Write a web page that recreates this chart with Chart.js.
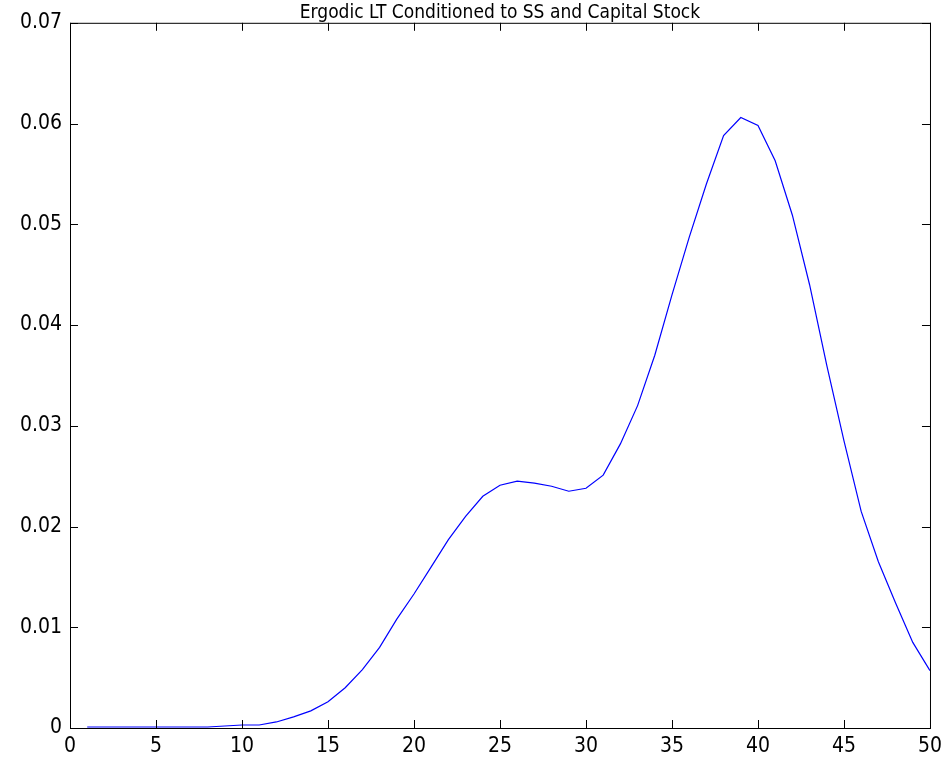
<!DOCTYPE html>
<html>
<head>
<meta charset="utf-8">
<title>Ergodic LT Conditioned to SS and Capital Stock</title>
<script src="https://cdn.jsdelivr.net/npm/chart.js@4.4.1/dist/chart.umd.min.js"></script>
<style>
    html, body { margin: 0; padding: 0; background: #fff; }
    #wrap { width: 948px; height: 766px; }
</style>
</head>
<body>
<div id="wrap"><canvas id="ergodicChart"></canvas></div>
<script>
// Data (x = grid point, y = probability mass)
const gridPoints = [
    1, 2, 3, 4, 5, 6, 7, 8, 9, 10,
    11, 12, 13, 14, 15, 16, 17, 18, 19, 20,
    21, 22, 23, 24, 25, 26, 27, 28, 29, 30,
    31, 32, 33, 34, 35, 36, 37, 38, 39, 40,
    41, 42, 43, 44, 45, 46, 47, 48, 49, 50
];
const probabilities = [
    0.0001, 0.0001, 0.0001, 0.0001, 0.0001, 0.0001, 0.0001, 0.0001, 0.0002, 0.0003,
    0.0003, 0.0006, 0.0011, 0.0017, 0.0026, 0.0040, 0.0058, 0.0080, 0.0108, 0.0133,
    0.0160, 0.0187, 0.0210, 0.0230, 0.0241, 0.0245, 0.0243, 0.0240, 0.0235, 0.0238,
    0.0251, 0.0282, 0.0320, 0.0370, 0.0430, 0.0487, 0.0540, 0.0588, 0.0606, 0.0598,
    0.0563, 0.0509, 0.0440, 0.0360, 0.0285, 0.0215, 0.0165, 0.0124, 0.0085, 0.0057
];
const xTicks = [0, 5, 10, 15, 20, 25, 30, 35, 40, 45, 50];
const yTicks = [0, 0.01, 0.02, 0.03, 0.04, 0.05, 0.06, 0.07];

const chartTitle = "Ergodic LT Conditioned to SS and Capital Stock";
const fontFamily = "'DejaVu Sans Condensed', 'Liberation Sans Narrow', sans-serif";

// Matlab style box with inward ticks on all four sides
const boxPlugin = {
    id: "matlabBox",
    afterDraw(chart) {
        const { ctx, chartArea: a, scales } = chart;
        const len = 8;
        ctx.save();
        ctx.strokeStyle = "#000";
        ctx.lineWidth = 1;
        ctx.strokeRect(a.left + 0.5, a.top + 0.5, a.right - a.left, a.bottom - a.top);
        ctx.beginPath();
        xTicks.forEach((v) => {
            const px = Math.round(scales.x.getPixelForValue(v)) + 0.5;
            ctx.moveTo(px, a.bottom);
            ctx.lineTo(px, a.bottom - len);
            ctx.moveTo(px, a.top);
            ctx.lineTo(px, a.top + len);
        });
        yTicks.forEach((v) => {
            const py = Math.round(scales.y.getPixelForValue(v)) + 0.5;
            ctx.moveTo(a.left, py);
            ctx.lineTo(a.left + len, py);
            ctx.moveTo(a.right, py);
            ctx.lineTo(a.right - len, py);
        });
        ctx.stroke();
        ctx.restore();
    },
};

const ctx = document.getElementById("ergodicChart").getContext("2d");

new Chart(ctx, {
    type: "line",
    data: {
        datasets: [
            {
                data: gridPoints.map((x, i) => ({ x: x, y: probabilities[i] })),
                borderColor: "rgb(0, 0, 255)",
                borderWidth: 1.2,
                pointRadius: 0,
                tension: 0,
                fill: false,
            },
        ],
    },
    options: {
        responsive: true,
        maintainAspectRatio: false,
        animation: false,
        layout: {
            padding: { left: 0, right: 18, top: 0, bottom: 0 },
        },
        plugins: {
            legend: { display: false },
            tooltip: { enabled: false },
            title: {
                display: true,
                fullSize: false,
                text: chartTitle,
                color: "#000",
                font: { family: fontFamily, size: 19, weight: "normal" },
                padding: { top: 2, bottom: -2 },
            },
        },
        scales: {
            x: {
                type: "linear",
                min: 0,
                max: 50,
                afterBuildTicks: (scale) => {
                    scale.ticks = xTicks.map((v) => ({ value: v }));
                },
                afterFit: (scale) => {
                    scale.height = 38;
                },
                grid: { display: false, drawTicks: false },
                border: { display: false },
                ticks: {
                    color: "#000",
                    padding: 6,
                    maxRotation: 0,
                    font: { family: fontFamily, size: 21 },
                },
            },
            y: {
                type: "linear",
                min: 0,
                max: 0.07,
                afterBuildTicks: (scale) => {
                    scale.ticks = yTicks.map((v) => ({ value: v }));
                },
                afterFit: (scale) => {
                    scale.width = 70;
                },
                grid: { display: false, drawTicks: false },
                border: { display: false },
                ticks: {
                    color: "#000",
                    padding: 8,
                    font: { family: fontFamily, size: 21 },
                    callback: (v) => (v === 0 ? "0" : v.toFixed(2)),
                },
            },
        },
    },
    plugins: [boxPlugin],
});
</script>
</body>
</html>
